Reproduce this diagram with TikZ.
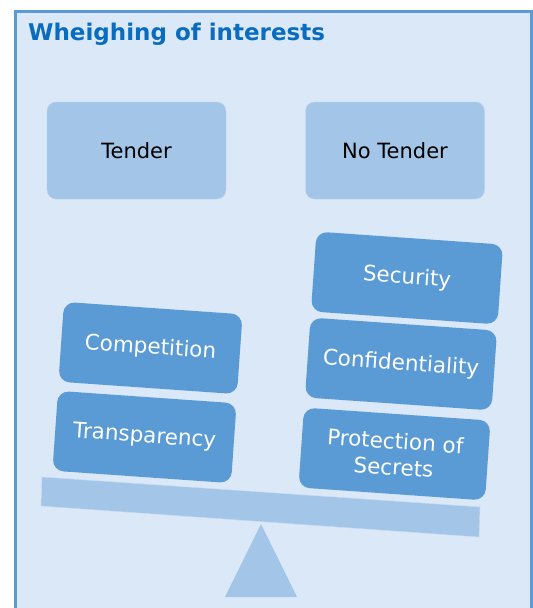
\documentclass[tikz,border=0pt]{standalone}
\usepackage{fontspec}
\setmainfont{DejaVu Sans}

\definecolor{paneblue}{HTML}{DAE8F7}
\definecolor{rimblue}{HTML}{5B9BD5}
\definecolor{boxblue}{HTML}{5B9BD5}
\definecolor{paleblue}{HTML}{A3C5E8}
\definecolor{titleblue}{HTML}{0A6CBF}

\tikzset{
  choice/.style={fill=paleblue, draw=paleblue!70!white, rounded corners=9pt,
    minimum width=179pt, minimum height=97pt, font=\fontsize{21}{24}\selectfont},
  weight/.style={fill=boxblue, rounded corners=11pt, minimum height=80pt,
    text=white, align=center, font=\fontsize{21.5}{26}\selectfont, rotate=-4},
}

\begin{document}
\begin{tikzpicture}[x=1pt, y=-1pt]
  \useasboundingbox (0,0) rectangle (533,608);
  \clip (0,0) rectangle (533,608);

  % frame and heading
  \draw[fill=paneblue, draw=rimblue, line width=3pt] (15,11.5) rectangle (531.5,640);
  \node[anchor=base west, text=titleblue, font=\fontsize{23}{26}\selectfont\bfseries, inner sep=0pt]
    (title) at (28,40) {Wheighing of interests};

  % the two options
  \node[choice] (tender)   at (136.5,150.5) {Tender};
  \node[choice] (notender) at (395,150.5)   {No Tender};

  % weights on the left pan
  \node[weight, minimum width=179pt] (competition)  at (150.5,348) {Competition};
  \node[weight, minimum width=179pt] (transparency) at (144.5,437) {Transparency};

  % weights on the right pan
  \node[weight, minimum width=187pt] (security)        at (407,278) {Security};
  \node[weight, minimum width=187pt] (confidentiality) at (401,364) {Confidentiality};
  \node[weight, minimum width=187pt] (secrets)         at (394.5,454) {Protection of\\Secrets};

  % beam and pivot
  \draw[fill=paleblue, draw=paleblue!60!white] (42,477) -- (480,507) -- (479,537) -- (41,506) -- cycle;
  \fill[paleblue] (261,524) -- (297,597) -- (225,597) -- cycle;
\end{tikzpicture}
\end{document}
